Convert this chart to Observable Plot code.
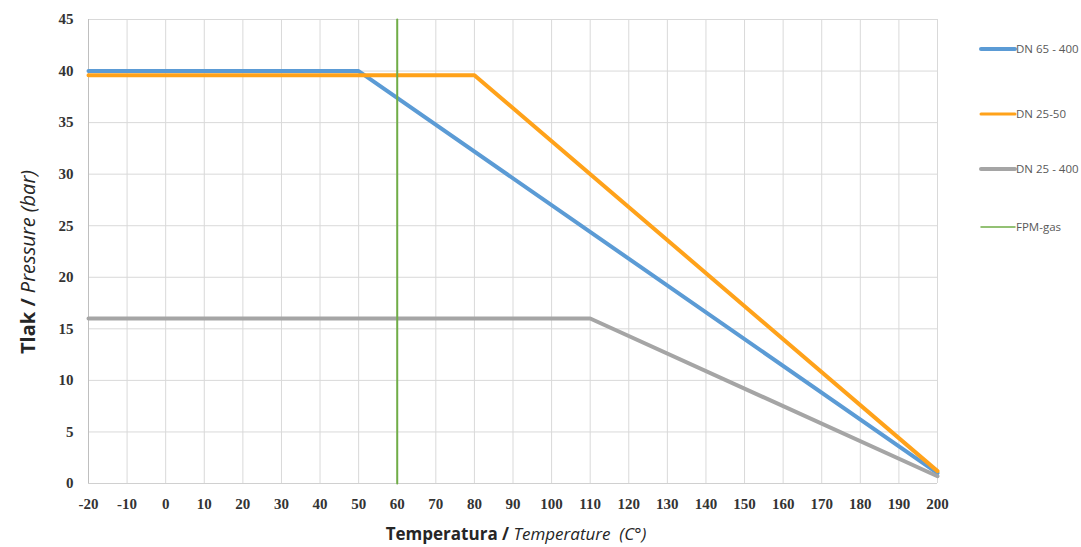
<!DOCTYPE html>
<html>
<head>
<meta charset="utf-8">
<script src="https://cdn.jsdelivr.net/npm/d3@7"></script>
<script src="https://cdn.jsdelivr.net/npm/@observablehq/plot@0.6"></script>
<style>
  html, body { margin: 0; padding: 0; background: #fff; }
  #chart { position: relative; width: 1081px; height: 547px; }
</style>
</head>
<body>
<div id="chart"></div>
<script>
// Data
const seriesNames = ["DN 65 - 400", "DN 25-50", "DN 25 - 400", "FPM-gas"];
const seriesColors = ["#5b9bd5", "#ffa21a", "#a5a5a5", "#70ad47"];
const dn65Temp = [-20, 50, 200];
const dn65Pressure = [40, 40, 1.0];
const dn25_50Temp = [-20, 80, 200];
const dn25_50Pressure = [39.6, 39.6, 1.2];
const dn25_400Temp = [-20, 110, 200];
const dn25_400Pressure = [16, 16, 0.7];
const fpmTemp = [60, 60];
const fpmPressure = [0, 45];
const xTicks = d3.range(-20, 201, 10);
const yTicks = d3.range(0, 46, 5);

const toRows = (xs, ys, s) => xs.map((x, i) => ({x, y: ys[i], s}));
const dn65 = toRows(dn65Temp, dn65Pressure, seriesNames[0]);
const dn2550 = toRows(dn25_50Temp, dn25_50Pressure, seriesNames[1]);
const dn25400 = toRows(dn25_400Temp, dn25_400Pressure, seriesNames[2]);
const fpm = toRows(fpmTemp, fpmPressure, seriesNames[3]);

const tickFont = "'Liberation Serif', serif";

const plot = Plot.plot({
  width: 1081,
  height: 547,
  marginLeft: 88,
  marginRight: 144,
  marginTop: 19,
  marginBottom: 64,
  style: { background: "#fff", fontFamily: tickFont },
  x: { domain: [-20, 200], ticks: xTicks, label: null },
  y: { domain: [0, 45], ticks: yTicks, label: null },
  marks: [
    Plot.gridX(xTicks, { stroke: "#d9d9d9", strokeOpacity: 1, strokeWidth: 1 }),
    Plot.gridY(yTicks, { stroke: "#d9d9d9", strokeOpacity: 1, strokeWidth: 1 }),
    Plot.ruleX([-20], { stroke: "#bfbfbf" }),
    Plot.ruleY([0], { stroke: "#d0d0d0" }),
    Plot.axisX(xTicks, { tickSize: 0, tickPadding: 15, fontSize: 15, fontWeight: "bold", fill: "#333", tickFormat: d => String(d) }),
    Plot.axisY(yTicks, { tickSize: 0, tickPadding: 15, fontSize: 15, fontWeight: "bold", fill: "#333", tickFormat: d => String(d) }),
    Plot.line(dn65, { x: "x", y: "y", stroke: seriesColors[0], strokeWidth: 4, strokeLinejoin: "round" }),
    Plot.line(dn2550, { x: "x", y: "y", stroke: seriesColors[1], strokeWidth: 4, strokeLinejoin: "round" }),
    Plot.line(dn25400, { x: "x", y: "y", stroke: seriesColors[2], strokeWidth: 4, strokeLinejoin: "round" }),
    Plot.line(fpm, { x: "x", y: "y", stroke: seriesColors[3], strokeWidth: 2 })
  ]
});
document.getElementById("chart").appendChild(plot);

const svg = d3.select(plot);
const titleFont = "'Open Sans', 'Noto Sans', sans-serif";

// Y axis title
const yt = svg.append("text")
  .attr("transform", "translate(35,262) rotate(-90)")
  .attr("text-anchor", "middle")
  .attr("font-family", titleFont)
  .attr("font-size", 20)
  .attr("fill", "#262626");
yt.append("tspan").attr("font-weight", "bold").text("Tlak / ");
yt.append("tspan").attr("font-style", "italic").text("Pressure (bar)");

// X axis title
const xt = svg.append("text")
  .attr("x", 516).attr("y", 540)
  .attr("text-anchor", "middle")
  .attr("font-family", titleFont)
  .attr("font-size", 17)
  .attr("fill", "#262626");
xt.append("tspan").attr("font-weight", "bold").text("Temperatura / ");
xt.append("tspan").attr("font-style", "italic").text("Temperature  (C°)");

// Legend
const legendY = [49, 114, 169, 227];
const legendW = [4, 3, 4, 1.5];
const lg = svg.append("g");
seriesNames.forEach((name, i) => {
  lg.append("line")
    .attr("x1", 981).attr("x2", 1015)
    .attr("y1", legendY[i]).attr("y2", legendY[i])
    .attr("stroke", seriesColors[i]).attr("stroke-width", legendW[i])
    .attr("stroke-linecap", "round");
  lg.append("text")
    .attr("x", 1016).attr("y", legendY[i])
    .attr("dy", "0.35em")
    .attr("text-anchor", "start")
    .attr("font-family", titleFont)
    .attr("font-size", 11.5)
    .attr("fill", "#595959")
    .text(name);
});
</script>
</body>
</html>
